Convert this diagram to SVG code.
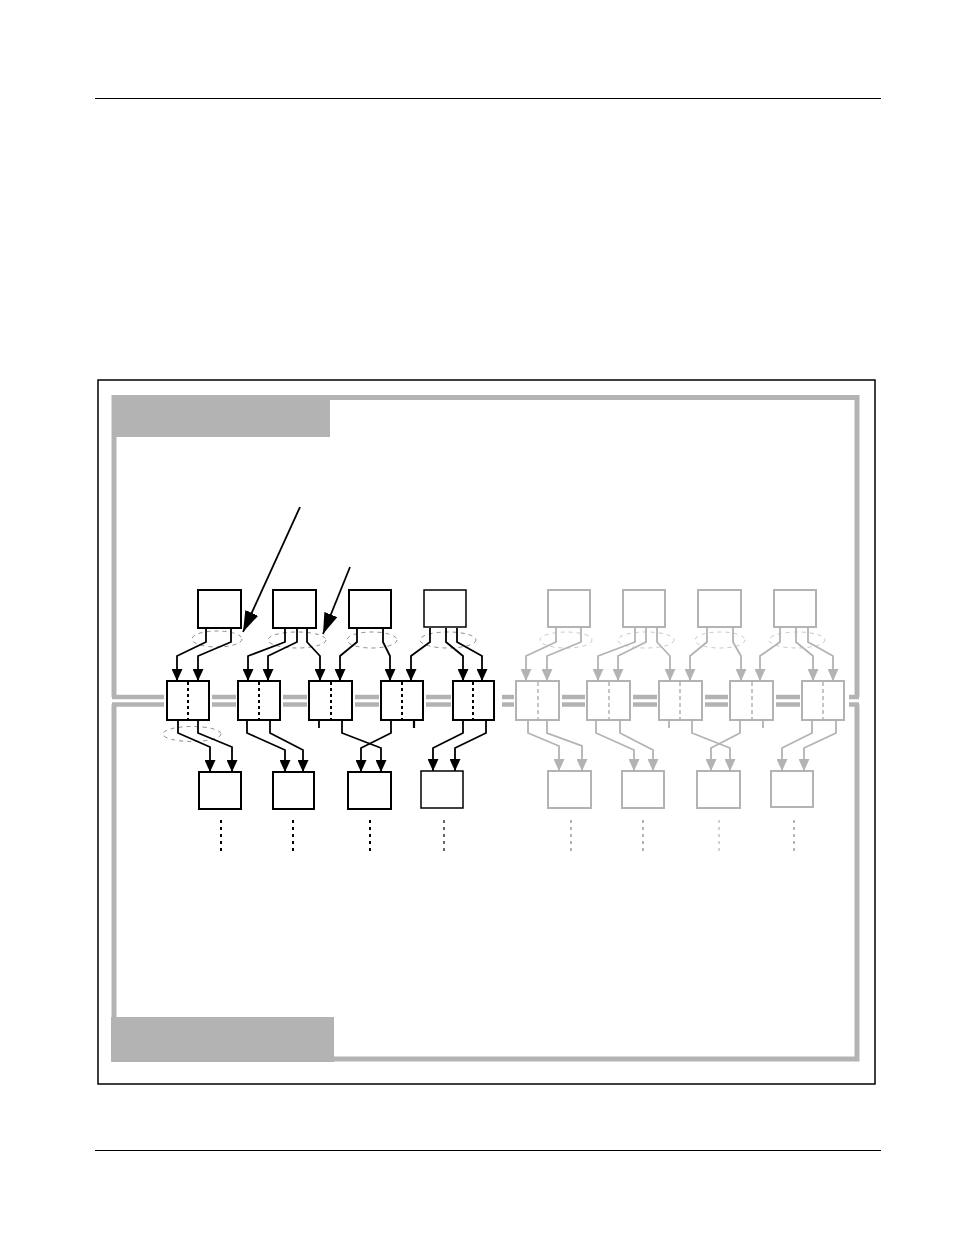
<svg xmlns="http://www.w3.org/2000/svg" width="954" height="1235" viewBox="0 0 954 1235">
<defs>
<style>
.page{stroke:#000;stroke-width:1}
.outer{fill:none;stroke:#000;stroke-width:1.5}
.frame{fill:none;stroke:#b3b3b3;stroke-width:5;stroke-linejoin:miter}
.hdr{fill:#b3b3b3}
.bar{stroke:#b3b3b3;stroke-width:4.5}
.nb rect{fill:#fff;stroke:#000;stroke-width:2}
.ng rect{fill:#fff;stroke:#b3b3b3;stroke-width:2}
.nb line{stroke:#000;stroke-width:2;stroke-dasharray:3 3}
.ng line{stroke:#b3b3b3;stroke-width:1.5;stroke-dasharray:4 3}
.cb{fill:none;stroke:#000;stroke-width:1.8;marker-end:url(#ab)}
.cg{fill:none;stroke:#b3b3b3;stroke-width:1.8;marker-end:url(#ag)}
.tb{stroke:#000;stroke-width:1.8}
.tg{stroke:#b3b3b3;stroke-width:1.8}
.ell{fill:none;stroke:#8c8c8c;stroke-width:1;stroke-dasharray:4 4}
.db{stroke:#000;stroke-width:2;stroke-dasharray:3 4}
.dg{stroke:#b3b3b3;stroke-width:2;stroke-dasharray:3 4}
.ptr{stroke:#000;stroke-width:1.8;marker-end:url(#ap)}
</style>
<marker id="ab" markerUnits="userSpaceOnUse" markerWidth="13" markerHeight="11" refX="12" refY="5.5" orient="auto"><path d="M0,0 L12,5.5 L0,11 z" fill="#000"/></marker>
<marker id="ag" markerUnits="userSpaceOnUse" markerWidth="13" markerHeight="11" refX="12" refY="5.5" orient="auto"><path d="M0,0 L12,5.5 L0,11 z" fill="#b3b3b3"/></marker>
<marker id="ap" markerUnits="userSpaceOnUse" markerWidth="22" markerHeight="14" refX="21" refY="7" orient="auto"><path d="M0,0 L21,7 L0,14 z" fill="#000"/></marker>
</defs>

<g id="page">
<line class="page" x1="95" y1="98.5" x2="881" y2="98.5"/>
<line class="page" x1="95" y1="1150.5" x2="881" y2="1150.5"/>
<rect class="outer" x="98" y="380" width="777" height="704"/>
</g>

<g id="frames">
<path class="frame" d="M114,697 V397.5 H857 V697"/>
<path class="frame" d="M114,704.5 V1059 H857 V704.5"/>
<rect id="header-top" class="hdr" x="112" y="395" width="218" height="42"/>
<rect id="header-bottom" class="hdr" x="111" y="1017" width="223" height="45"/>
<g id="bus">
<line class="bar" x1="112" y1="697" x2="164" y2="697"/><line class="bar" x1="112" y1="704.5" x2="164" y2="704.5"/>
<line class="bar" x1="212" y1="697" x2="236" y2="697"/><line class="bar" x1="212" y1="704.5" x2="236" y2="704.5"/>
<line class="bar" x1="283" y1="697" x2="307" y2="697"/><line class="bar" x1="283" y1="704.5" x2="307" y2="704.5"/>
<line class="bar" x1="355" y1="697" x2="379" y2="697"/><line class="bar" x1="355" y1="704.5" x2="379" y2="704.5"/>
<line class="bar" x1="426" y1="697" x2="451" y2="697"/><line class="bar" x1="426" y1="704.5" x2="451" y2="704.5"/>
<line class="bar" x1="502" y1="697" x2="514" y2="697"/><line class="bar" x1="502" y1="704.5" x2="514" y2="704.5"/>
<line class="bar" x1="562" y1="697" x2="585" y2="697"/><line class="bar" x1="562" y1="704.5" x2="585" y2="704.5"/>
<line class="bar" x1="633" y1="697" x2="657" y2="697"/><line class="bar" x1="633" y1="704.5" x2="657" y2="704.5"/>
<line class="bar" x1="705" y1="697" x2="728" y2="697"/><line class="bar" x1="705" y1="704.5" x2="728" y2="704.5"/>
<line class="bar" x1="776" y1="697" x2="800" y2="697"/><line class="bar" x1="776" y1="704.5" x2="800" y2="704.5"/>
<line class="bar" x1="849" y1="697" x2="859" y2="697"/><line class="bar" x1="849" y1="704.5" x2="859" y2="704.5"/>
</g>
</g>

<g id="top-row">
<g id="t1" class="nb"><rect x="198" y="590" width="43" height="38"/></g>
<g id="t2" class="nb"><rect x="273" y="590" width="43" height="38"/></g>
<g id="t3" class="nb"><rect x="349" y="590" width="42" height="38"/></g>
<g id="t4" class="nb"><rect x="424" y="590" width="42" height="37" style="stroke-width:1.5"/></g>
<g id="t5" class="ng"><rect x="548" y="590" width="42" height="37"/></g>
<g id="t6" class="ng"><rect x="623" y="590" width="42" height="37"/></g>
<g id="t7" class="ng"><rect x="698" y="590" width="43" height="37"/></g>
<g id="t8" class="ng"><rect x="774" y="590" width="42" height="37"/></g>
</g>

<g id="middle-row">
<g id="m1" class="nb"><rect x="167" y="681" width="42" height="39"/><line x1="188" y1="682" x2="188" y2="719"/></g>
<g id="m2" class="nb"><rect x="238" y="681" width="42" height="39"/><line x1="259" y1="682" x2="259" y2="719"/></g>
<g id="m3" class="nb"><rect x="309" y="681" width="43" height="39"/><line x1="331" y1="682" x2="331" y2="719"/></g>
<g id="m4" class="nb"><rect x="381" y="681" width="42" height="39"/><line x1="402" y1="682" x2="402" y2="719"/></g>
<g id="m5" class="nb"><rect x="453" y="681" width="41" height="39"/><line x1="473" y1="682" x2="473" y2="719"/></g>
<g id="m6" class="ng"><rect x="516" y="681" width="43" height="39"/><line x1="538" y1="682" x2="538" y2="719"/></g>
<g id="m7" class="ng"><rect x="587" y="681" width="43" height="39"/><line x1="609" y1="682" x2="609" y2="719"/></g>
<g id="m8" class="ng"><rect x="659" y="681" width="43" height="39"/><line x1="680" y1="682" x2="680" y2="719"/></g>
<g id="m9" class="ng"><rect x="730" y="681" width="43" height="39"/><line x1="752" y1="682" x2="752" y2="719"/></g>
<g id="m10" class="ng"><rect x="802" y="681" width="42" height="39"/><line x1="823" y1="682" x2="823" y2="719"/></g>
</g>

<g id="bottom-row">
<g id="b1" class="nb"><rect x="199" y="772" width="42" height="37"/></g>
<g id="b2" class="nb"><rect x="273" y="772" width="41" height="37"/></g>
<g id="b3" class="nb"><rect x="348" y="772" width="43" height="37"/></g>
<g id="b4" class="nb"><rect x="421" y="771" width="42" height="37" style="stroke-width:1.5"/></g>
<g id="b5" class="ng"><rect x="548" y="771" width="43" height="37"/></g>
<g id="b6" class="ng"><rect x="622" y="771" width="42" height="37"/></g>
<g id="b7" class="ng"><rect x="697" y="771" width="43" height="37"/></g>
<g id="b8" class="ng"><rect x="771" y="771" width="42" height="36"/></g>
</g>

<g id="groupings">
<ellipse class="ell" cx="217" cy="639" rx="25" ry="8"/>
<ellipse class="ell" cx="297" cy="640" rx="29" ry="8"/>
<ellipse class="ell" cx="372" cy="640" rx="25" ry="8"/>
<ellipse class="ell" cx="448" cy="640" rx="28" ry="8"/>
<ellipse class="ell" cx="566" cy="640" rx="26" ry="8" style="stroke:#c8c8c8"/>
<ellipse class="ell" cx="646" cy="640" rx="28" ry="8" style="stroke:#c8c8c8"/>
<ellipse class="ell" cx="720" cy="640" rx="25" ry="8" style="stroke:#c8c8c8"/>
<ellipse class="ell" cx="797" cy="640" rx="28" ry="8" style="stroke:#c8c8c8"/>
<ellipse class="ell" cx="192" cy="734" rx="29" ry="7.5"/>
</g>

<g id="connectors">
<polyline class="cb" points="206,628 206,642 177,656 177,681"/>
<polyline class="cb" points="231,628 231,642 198,656 198,681"/>
<polyline class="cb" points="285,628 285,642 248,656 248,681"/>
<polyline class="cb" points="297,628 297,642 268,656 268,681"/>
<polyline class="cb" points="307,628 307,642 320,656 320,681"/>
<polyline class="cb" points="357,628 357,642 340,656 340,681"/>
<polyline class="cb" points="383,628 383,642 390,656 390,681"/>
<polyline class="cb" points="430,628 430,642 411,656 411,681"/>
<polyline class="cb" points="446,628 446,642 463,656 463,681"/>
<polyline class="cb" points="457,628 457,642 482,656 482,681"/>

<polyline class="cg" points="556,628 556,642 526,656 526,681"/>
<polyline class="cg" points="581,628 581,642 547,656 547,681"/>
<polyline class="cg" points="635,628 635,642 598,656 598,681"/>
<polyline class="cg" points="646,628 646,642 618,656 618,681"/>
<polyline class="cg" points="657,628 657,642 670,656 670,681"/>
<polyline class="cg" points="707,628 707,642 690,656 690,681"/>
<polyline class="cg" points="733,628 733,642 741,656 741,681"/>
<polyline class="cg" points="780,628 780,642 760,656 760,681"/>
<polyline class="cg" points="796,628 796,642 813,656 813,681"/>
<polyline class="cg" points="808,628 808,642 833,656 833,681"/>

<polyline class="cb" points="178,720 178,733 210,747 210,772"/>
<polyline class="cb" points="198,720 198,733 232,747 232,772"/>
<polyline class="cb" points="247,720 247,733 285,750 285,772"/>
<polyline class="cb" points="270,720 270,733 303,750 303,772"/>
<polyline class="cb" points="342,720 342,733 381,748 381,772"/>
<polyline class="cb" points="391,720 391,733 361,748 361,772"/>
<polyline class="cb" points="463,720 463,733 433,748 433,771"/>
<polyline class="cb" points="486,720 486,733 455,748 455,771"/>

<polyline class="cg" points="528,720 528,733 559,746 559,771"/>
<polyline class="cg" points="547,720 547,733 582,746 582,771"/>
<polyline class="cg" points="596,720 596,733 634,750 634,771"/>
<polyline class="cg" points="620,720 620,733 653,750 653,771"/>
<polyline class="cg" points="692,720 692,733 730,748 730,771"/>
<polyline class="cg" points="740,720 740,733 711,748 711,771"/>
<polyline class="cg" points="812,720 812,733 782,748 782,771"/>
<polyline class="cg" points="836,720 836,733 804,748 804,771"/>

<line class="tb" x1="319" y1="720" x2="319" y2="728"/>
<line class="tb" x1="414" y1="720" x2="414" y2="728" style="stroke-width:2.2"/>
<line class="tg" x1="669" y1="720" x2="669" y2="728"/>
<line class="tg" x1="763" y1="720" x2="763" y2="728"/>

<line class="db" x1="221" y1="820" x2="221" y2="852"/>
<line class="db" x1="293" y1="820" x2="293" y2="852"/>
<line class="db" x1="370" y1="820" x2="370" y2="852"/>
<line class="db" x1="444" y1="820" x2="444" y2="852" style="stroke-width:1.2"/>
<line class="dg" x1="571" y1="820" x2="571" y2="852"/>
<line class="dg" x1="643" y1="820" x2="643" y2="852"/>
<line class="dg" x1="719" y1="820" x2="719" y2="852" style="stroke-width:1.2"/>
<line class="dg" x1="794" y1="820" x2="794" y2="852"/>

<line class="ptr" x1="300" y1="507" x2="243" y2="632"/>
<line class="ptr" x1="350" y1="567" x2="323" y2="634"/>
</g>
</svg>
